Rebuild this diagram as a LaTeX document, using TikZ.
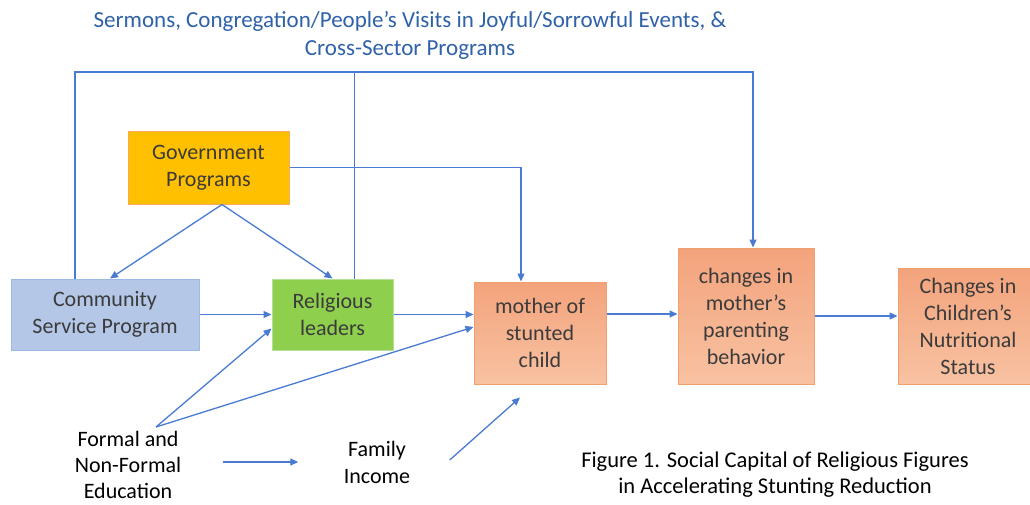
\documentclass[tikz,border=0pt]{standalone}
\usepackage{fontspec}
\setmainfont{Carlito}
\usetikzlibrary{positioning,arrows.meta,calc}
\definecolor{inkc}{HTML}{3B3B3B}
\definecolor{linkc}{HTML}{4A7BD3}
\definecolor{headc}{HTML}{2F62A8}
\definecolor{govc}{HTML}{FFC000}
\definecolor{govd}{HTML}{F5A95E}
\definecolor{comc}{HTML}{B4C7E7}
\definecolor{comd}{HTML}{9DB9E6}
\definecolor{relc}{HTML}{8FCF4E}
\definecolor{reld}{HTML}{B7DE95}
\definecolor{outt}{HTML}{F3A37C}
\definecolor{outbt}{HTML}{F8C2A2}
\definecolor{outd}{HTML}{F0A06F}
\tikzset{
  blk/.style  ={draw,line width=1pt,inner sep=3pt,align=center,text=inkc,
                font=\fontsize{22}{27}\selectfont},
  govb/.style ={blk,draw=govd,fill=govc},
  comb/.style ={blk,draw=comd,fill=comc},
  relb/.style ={blk,draw=reld,fill=relc},
  outb/.style ={blk,draw=outd,top color=outt,bottom color=outbt},
  lbl/.style  ={align=center,text=black,font=\fontsize{22}{27}\selectfont},
  ttl/.style  ={align=center,text=headc,font=\fontsize{23}{28}\selectfont},
  ar/.style   ={-{Triangle[length=8pt,width=7pt]},draw=linkc,line width=1.3pt},
  ln/.style   ={draw=linkc,line width=1.3pt},
}
\begin{document}
\begin{tikzpicture}[x=1pt,y=-1pt]
\useasboundingbox (0,0) rectangle (1030,504);
\fill[white] (0,0) rectangle (1030,504);

\node[ttl] (t) at (410,35)
  {Sermons, Congregation/People's Visits in Joyful/Sorrowful Events, \&\\Cross-Sector Programs};
\coordinate (topy) at (0,72);

% ---------- programs and leaders -----------------------------------------
\node[govb,minimum width=161pt,minimum height=73pt] (gov) at (208.5,167.5) {Government\\Programs};
\node[comb,minimum width=188pt,minimum height=71pt] (com) at (105,314.5) {Community\\Service Program};
\node[relb,minimum width=121pt,minimum height=71pt,right=72pt of com] (rel) {Religious\\leaders};

% ---------- mother and outcomes ------------------------------------------
\node[outb,minimum width=132pt,minimum height=102pt] (mom) at (540,333) {mother of\\stunted\\child};
\node[outb,minimum width=136pt,minimum height=136pt,right=71pt of mom.south east,anchor=south west] (chg)
  {changes in\\mother's\\parenting\\behavior};
\node[outb,minimum width=140pt,minimum height=116pt,right=83pt of chg.south east,anchor=south west] (kid)
  {Changes in\\Children's\\Nutritional\\Status};

% ---------- education and income -----------------------------------------
\node[lbl,font=\fontsize{22}{26}\selectfont] (edu) at (128,465) {Formal and\\Non-Formal\\Education};
\node[lbl] (inc) at (377,462) {Family\\Income};
\coordinate (eduA) at (156,427);

\node[lbl,font=\fontsize{22.5}{26}\selectfont] (cap) at (775,475)
  {Figure 1. Social Capital of Religious Figures\\in Accelerating Stunting Reduction};

% ---------- connectors ---------------------------------------------------
\draw[ar]([xshift=13.5pt]gov.south)--([xshift=5pt]com.north);
\draw[ar]([xshift=13.5pt]gov.south)--(rel.north);
\draw[ar](gov.east)-|([xshift=-19pt]mom.north);
\draw[ar](com)--(rel);
\draw[ar](rel.east)--(rel.east-|mom.west);
\draw[ar](eduA)--([yshift=-14pt]rel.west);
\draw[ar](eduA)--([yshift=6pt]mom.west);
\draw[ar]([xshift=38pt]edu.east|-inc.west)--([xshift=-42pt]inc.west);
\draw[ar]([xshift=36pt,yshift=2pt]inc.east)--([xshift=-20pt,yshift=-13pt]mom.south);
\draw[ar]([yshift=19pt]mom.east)--([yshift=19pt]mom.east-|chg.west);
\draw[ar](chg.east)--(chg.east-|kid.west);

% top loop from community and leaders
\draw[ar]([xshift=-30pt]com.north)|-([xshift=7pt]chg.north|-topy)--([xshift=7pt]chg.north);
\draw[ln]([xshift=22pt]rel.north)--([xshift=22pt]rel.north|-topy);
\end{tikzpicture}
\end{document}
